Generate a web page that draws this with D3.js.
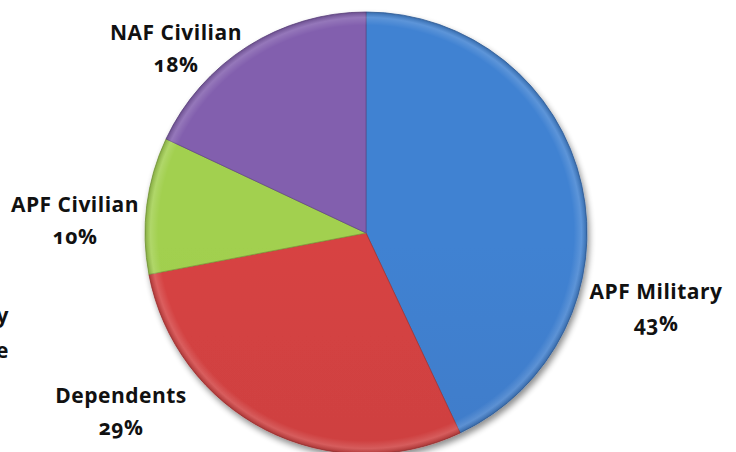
<!DOCTYPE html>
<html>
<head>
<meta charset="utf-8">
<script src="https://cdn.jsdelivr.net/npm/d3@7"></script>
<style>
html,body{margin:0;padding:0;background:#fff;}
svg{display:block;}
text{font-family:"Open Sans",Lato,sans-serif;font-weight:bold;fill:#111;font-variant-numeric:oldstyle-nums;letter-spacing:0.5px;}
</style>
</head>
<body>
<svg id="chart" width="736" height="452"></svg>
<script>
const categories = ["APF Military", "Dependents", "APF Civilian", "NAF Civilian"];
const values = [43, 29, 10, 18];
const colors = ["#3f7dcb", "#cf4141", "#9cc94c", "#7d5ba8"];
const labelPos = [[656, 299], [121, 403], [75, 212], [176, 40]];
const cutLabels = ["Military", "Reserve"];

const svg = d3.select("#chart");
const cx = 366, cy = 233, r = 221;

const defs = svg.append("defs");
const f = defs.append("filter").attr("id","shadow").attr("x","-20%").attr("y","-20%").attr("width","140%").attr("height","140%");
f.append("feGaussianBlur").attr("in","SourceAlpha").attr("stdDeviation",3).attr("result","b");
f.append("feOffset").attr("in","b").attr("dx",2).attr("dy",4).attr("result","o");
f.append("feComponentTransfer").attr("in","o").attr("result","o2").append("feFuncA").attr("type","linear").attr("slope",0.45);
const m = f.append("feMerge");
m.append("feMergeNode").attr("in","o2");
m.append("feMergeNode").attr("in","SourceGraphic");

const rg = defs.append("radialGradient").attr("id","bevel")
  .attr("gradientUnits","userSpaceOnUse").attr("cx",cx).attr("cy",cy).attr("r",r);
rg.append("stop").attr("offset","0%").attr("stop-color","#fff").attr("stop-opacity",0);
rg.append("stop").attr("offset","94%").attr("stop-color","#fff").attr("stop-opacity",0);
rg.append("stop").attr("offset","97.5%").attr("stop-color","#fff").attr("stop-opacity",0.15);
rg.append("stop").attr("offset","100%").attr("stop-color","#000").attr("stop-opacity",0.18);

colors.forEach((c,i)=>{
  const lg = defs.append("linearGradient").attr("id","g"+i)
    .attr("gradientUnits","userSpaceOnUse").attr("x1",0).attr("y1",cy-r).attr("x2",0).attr("y2",cy+r);
  lg.append("stop").attr("offset","0%").attr("stop-color", d3.color(c).brighter(0.1));
  lg.append("stop").attr("offset","100%").attr("stop-color", d3.color(c).darker(0.15));
});

const pie = d3.pie().sort(null).value(d=>d)(values);
const arc = d3.arc().innerRadius(0).outerRadius(r);

const g = svg.append("g").attr("transform",`translate(${cx},${cy})`);
const sg = g.append("g").attr("filter","url(#shadow)");
sg.selectAll("path.slice").data(pie).join("path").attr("class","slice")
  .attr("d",arc)
  .attr("fill",(d,i)=>`url(#g${i})`)
  .attr("stroke",(d,i)=>d3.color(colors[i]).darker(0.6))
  .attr("stroke-width",0.8);
svg.append("circle").attr("cx",cx).attr("cy",cy).attr("r",r).attr("fill","url(#bevel)");

const lab = svg.append("g");
categories.forEach((c,i)=>{
  const t = lab.append("text").attr("text-anchor","middle").attr("font-size",21);
  t.append("tspan").attr("x",labelPos[i][0]).attr("y",labelPos[i][1]).text(c);
  t.append("tspan").attr("x",labelPos[i][0]).attr("dy",32).text(values[i]+"%");
});
const cl = lab.append("text").attr("text-anchor","end").attr("font-size",21);
cl.append("tspan").attr("x",9).attr("y",323).text(cutLabels[0]);
cl.append("tspan").attr("x",9).attr("y",358).text(cutLabels[1]);
</script>
</body>
</html>
